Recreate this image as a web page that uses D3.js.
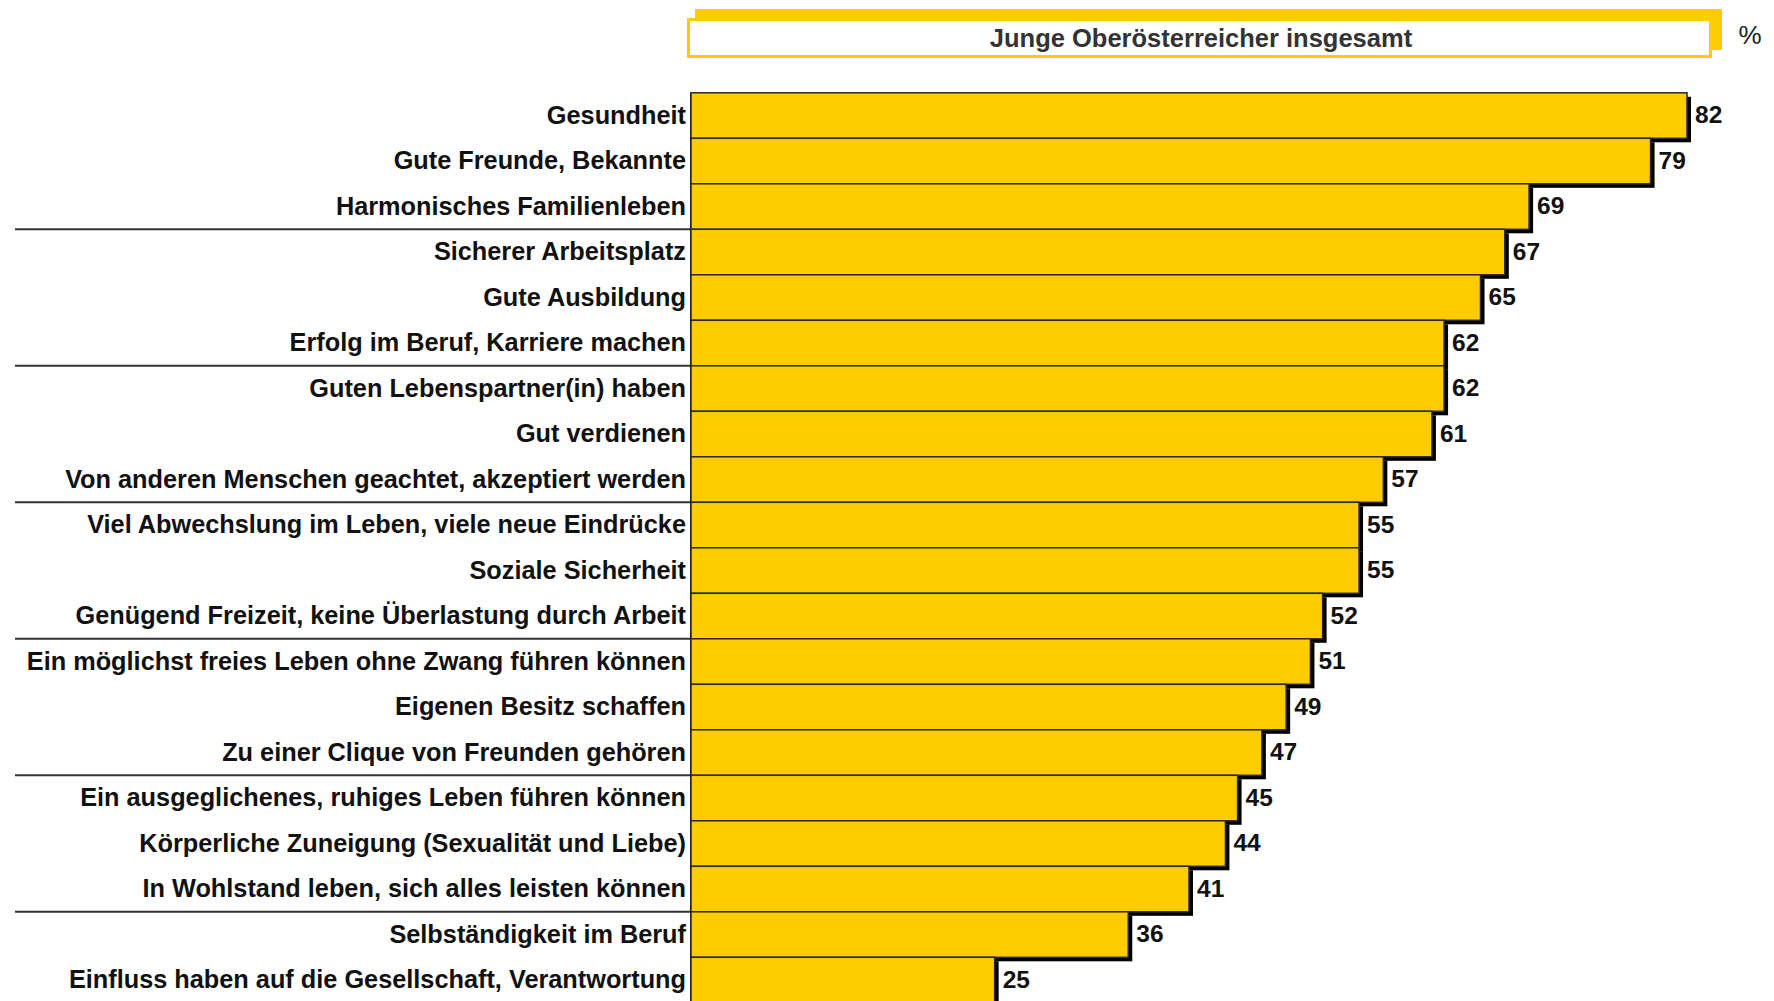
<!DOCTYPE html>
<html>
<head>
<meta charset="utf-8">
<script src="https://cdn.jsdelivr.net/npm/d3@7"></script>
<style>
  body { margin: 0; background: #fff; }
  svg { display: block; font-family: "Liberation Sans", Arial, sans-serif; }
</style>
</head>
<body>
<div id="chart"></div>
<script>
const title = 'Junge Oberösterreicher insgesamt'
const unit = '%'

const labels = [
  'Gesundheit',
  'Gute Freunde, Bekannte',
  'Harmonisches Familienleben',
  'Sicherer Arbeitsplatz',
  'Gute Ausbildung',
  'Erfolg im Beruf, Karriere machen',
  'Guten Lebenspartner(in) haben',
  'Gut verdienen',
  'Von anderen Menschen geachtet, akzeptiert werden',
  'Viel Abwechslung im Leben, viele neue Eindrücke',
  'Soziale Sicherheit',
  'Genügend Freizeit, keine Überlastung durch Arbeit',
  'Ein möglichst freies Leben ohne Zwang führen können',
  'Eigenen Besitz schaffen',
  'Zu einer Clique von Freunden gehören',
  'Ein ausgeglichenes, ruhiges Leben führen können',
  'Körperliche Zuneigung (Sexualität und Liebe)',
  'In Wohlstand leben, sich alles leisten können',
  'Selbständigkeit im Beruf',
  'Einfluss haben auf die Gesellschaft, Verantwortung'
]

const values = [82, 79, 69, 67, 65, 62, 62, 61, 57, 55, 55, 52, 51, 49, 47, 45, 44, 41, 36, 25]

const width = 1774
const height = 1001
const axisX = 691
const topY = 92.8
const rowH = 45.5
const shadow = 4

const svg = d3.select('#chart')
  .append('svg')
  .attr('width', width)
  .attr('height', height)

const x = d3.scaleLinear()
  .domain([0, 82])
  .range([axisX, 1687])

const y = d3.scaleBand()
  .domain(labels)
  .range([topY, topY + labels.length * rowH])
  .padding(0)

// header box
svg.append('rect')
  .attr('x', 695).attr('y', 9)
  .attr('width', 1027).attr('height', 41)
  .attr('fill', '#ffcc00')

svg.append('rect')
  .attr('x', 688.5).attr('y', 19.5)
  .attr('width', 1022).attr('height', 37)
  .attr('fill', '#fff')
  .attr('stroke', '#ffcc00')
  .attr('stroke-width', 3)

svg.append('text')
  .attr('x', 1201).attr('y', 38)
  .attr('text-anchor', 'middle')
  .attr('dominant-baseline', 'central')
  .attr('font-size', 25.5)
  .attr('font-weight', 'bold')
  .attr('fill', '#333')
  .text(title)

svg.append('text')
  .attr('x', 1750).attr('y', 35)
  .attr('text-anchor', 'middle')
  .attr('dominant-baseline', 'central')
  .attr('font-size', 26)
  .attr('fill', '#222')
  .text(unit)

// group separators on the left
const seps = labels.filter((d, i) => i % 3 === 2 && i < labels.length - 1)
svg.selectAll('.sep')
  .data(seps)
  .enter()
  .append('line')
  .attr('class', 'sep')
  .attr('x1', 15)
  .attr('x2', axisX)
  .attr('y1', d => y(d) + y.bandwidth())
  .attr('y2', d => y(d) + y.bandwidth())
  .attr('stroke', '#333')
  .attr('stroke-width', 2)

// axis line
svg.append('line')
  .attr('x1', axisX).attr('x2', axisX)
  .attr('y1', topY).attr('y2', height)
  .attr('stroke', '#111')
  .attr('stroke-width', 2)

const rows = labels.map((d, i) => ({ label: d, value: values[i] }))

// shadows first, bars on top
svg.selectAll('.shadow')
  .data(rows)
  .enter()
  .append('rect')
  .attr('class', 'shadow')
  .attr('x', x(0) + shadow)
  .attr('y', d => y(d.label) + shadow)
  .attr('width', d => x(d.value) - x(0))
  .attr('height', y.bandwidth())
  .attr('fill', '#000')

svg.selectAll('.bar')
  .data(rows)
  .enter()
  .append('rect')
  .attr('class', 'bar')
  .attr('x', x(0))
  .attr('y', d => y(d.label))
  .attr('width', d => x(d.value) - x(0))
  .attr('height', y.bandwidth())
  .attr('fill', '#ffcc00')
  .attr('stroke', '#2a2a2a')
  .attr('stroke-width', 1.5)

svg.selectAll('.label')
  .data(rows)
  .enter()
  .append('text')
  .attr('class', 'label')
  .attr('x', axisX - 5)
  .attr('y', d => y(d.label) + y.bandwidth() / 2 - 1)
  .attr('text-anchor', 'end')
  .attr('dominant-baseline', 'central')
  .attr('font-size', 25.3)
  .attr('font-weight', 'bold')
  .attr('fill', '#111')
  .text(d => d.label)

svg.selectAll('.value')
  .data(rows)
  .enter()
  .append('text')
  .attr('class', 'value')
  .attr('x', d => x(d.value) + 8)
  .attr('y', d => y(d.label) + y.bandwidth() / 2 - 1)
  .attr('dominant-baseline', 'central')
  .attr('font-size', 24.5)
  .attr('font-weight', 'bold')
  .attr('fill', '#111')
  .text(d => d.value)
</script>
</body>
</html>
